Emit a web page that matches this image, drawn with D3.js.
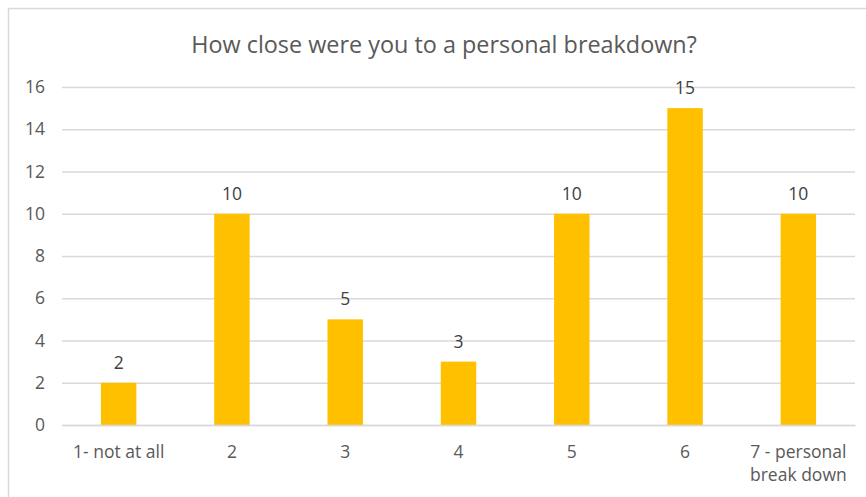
<!DOCTYPE html>
<html>
<head>
<meta charset="utf-8">
<script src="https://cdn.jsdelivr.net/npm/d3@7"></script>
<style>
  html, body { margin: 0; padding: 0; background: #fff; }
  svg { display: block; font-family: "Open Sans", "Liberation Sans", sans-serif; }
</style>
</head>
<body>
<svg id="chart" width="866" height="497"></svg>
<script>
// Survey answers: how close respondents were to a personal breakdown
const categories = ["1- not at all", "2", "3", "4", "5", "6", "7 - personal\nbreak down"];
const counts = [2, 10, 5, 3, 10, 15, 10];
const yTicks = [0, 2, 4, 6, 8, 10, 12, 14, 16];
const title = "How close were you to a personal breakdown?";

const W = 866, H = 497;
const margin = { top: 87, right: 11, bottom: 72, left: 62 };
const svg = d3.select("#chart");
const textColor = "#595959";
const gridColor = "#d9d9d9";

// chart frame
svg.append("rect")
  .attr("x", 8.5).attr("y", 8.5)
  .attr("width", W + 10).attr("height", H + 10)
  .attr("fill", "none").attr("stroke", gridColor).attr("stroke-width", 1.5);

const x = d3.scaleBand()
  .domain(categories)
  .range([margin.left, W - margin.right])
  .paddingInner(0.687)
  .paddingOuter(0.3435);

const y = d3.scaleLinear()
  .domain([0, 16])
  .range([H - margin.bottom, margin.top]);

// title
svg.append("text")
  .attr("x", 444).attr("y", 53)
  .attr("text-anchor", "middle")
  .attr("fill", textColor)
  .attr("font-size", 23.4)
  .text(title);

// horizontal gridlines
const yAxis = d3.axisLeft(y).tickValues(yTicks).tickSize(-(W - margin.right - margin.left)).tickPadding(17);
const gy = svg.append("g")
  .attr("transform", `translate(${margin.left},0)`)
  .call(yAxis);
gy.select(".domain").remove();
gy.selectAll(".tick line").attr("stroke", gridColor).attr("stroke-width", 1.3);
gy.selectAll(".tick text")
  .attr("fill", textColor)
  .attr("font-size", 17.5)
  .attr("font-family", "Open Sans, sans-serif");

// bars
svg.append("g").selectAll("rect")
  .data(counts)
  .join("rect")
  .attr("x", (d, i) => x(categories[i]))
  .attr("width", x.bandwidth())
  .attr("y", d => y(d))
  .attr("height", d => y(0) - y(d))
  .attr("fill", "#ffc000");

// value labels
svg.append("g").selectAll("text")
  .data(counts)
  .join("text")
  .attr("x", (d, i) => x(categories[i]) + x.bandwidth() / 2)
  .attr("y", d => y(d) - 14)
  .attr("text-anchor", "middle")
  .attr("fill", "#404040")
  .attr("font-size", 17.5)
  .text(d => d);

// category labels (multi-line where needed)
const xAxis = d3.axisBottom(x).tickSize(0).tickFormat("");
const gx = svg.append("g")
  .attr("transform", `translate(0,${y(0)})`)
  .call(xAxis);
gx.select(".domain").attr("stroke", gridColor).attr("stroke-width", 1.3);
gx.selectAll(".tick").each(function (d) {
  const lines = d.split("\n");
  const t = d3.select(this).append("text")
    .attr("text-anchor", "middle")
    .attr("fill", textColor)
    .attr("font-size", 17.5)
    .attr("font-family", "Open Sans, sans-serif");
  lines.forEach((ln, k) => {
    t.append("tspan").attr("x", 0).attr("y", 33 + k * 23).text(ln);
  });
});
</script>
</body>
</html>
